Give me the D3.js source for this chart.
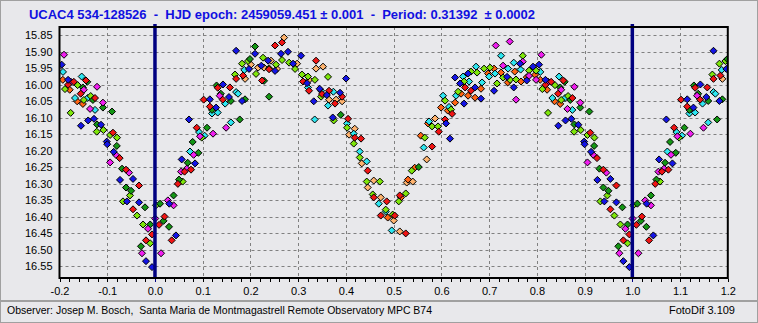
<!DOCTYPE html>
<html>
<head>
<meta charset="utf-8">
<script src="https://cdn.jsdelivr.net/npm/d3@7"></script>
<style>
  html, body { margin: 0; padding: 0; background: #e8e8eb; }
  svg { display: block; font-family: "Liberation Sans", Arial, sans-serif; }
</style>
</head>
<body>
<svg id="chart" width="758" height="323"></svg>
<script>
// Phased light curve of UCAC4 534-128526, one array per observing night.
// Each entry is [phase (0..1), magnitude].
const nightBlue = [
  [0.056,16.226],[0.084,16.238],[0.030,16.360],[0.044,16.456],[0.0713,16.105],[0.115,16.044],
  [0.128,16.069],[0.1425,15.999],[0.155,16.037],[0.1824,16.049],[0.197,15.952],[0.170,15.897],
  [0.2096,15.906],[0.2228,15.942],[0.237,15.927],[0.2515,15.958],[0.264,15.906],[0.2787,15.900],
  [0.2893,15.936],[0.306,15.912],[0.3186,15.995],[0.345,16.012],[0.360,16.031],[0.3877,16.024],
  [0.3326,16.050],[0.4003,15.981],[0.3724,16.099],[0.6098,16.117],[0.618,16.163],[0.6475,16.057],
  [0.6705,16.008],[0.683,16.042],[0.6287,15.978],[0.6391,15.996],[0.6559,15.966],[0.7103,16.018],
  [0.7516,16.008],[0.7376,15.976],[0.7648,15.936],[0.7788,15.987],[0.792,15.945],
  [0.8046,15.939],[0.818,15.985],[0.845,16.124],[0.860,16.108],[0.8723,16.103],[0.887,16.121],
  [0.899,16.172],[0.900,16.180],[0.9135,16.203],[0.954,16.285],[0.9268,16.288],[0.9414,16.353],
  [0.9666,16.356],[0.9812,16.534],[0.9938,16.552]
];
const nightRed = [
  [0.062,16.263],[0.0755,16.257],[0.048,16.300],[0.020,16.399],[0.0085,16.424],[0.035,16.471],
  [0.0875,16.130],[0.102,16.045],[0.115,16.066],[0.142,16.045],[0.1315,16.009],[0.157,16.008],
  [0.170,15.982],[0.1845,15.972],[0.2243,15.987],[0.239,15.953],[0.2515,15.881],[0.266,15.872],
  [0.3374,15.927],[0.3102,15.990],[0.3227,16.018],[0.350,16.028],[0.3646,16.018],[0.3772,16.057],
  [0.3919,16.036],[0.4045,16.103],[0.4185,16.160],[0.4317,16.163],[0.4457,16.260],[0.4583,16.341],
  [0.4855,16.353],[0.473,16.396],[0.5023,16.396],[0.5253,16.450],[0.5128,16.335],[0.5805,16.187],
  [0.5945,16.142],[0.6077,16.105],[0.6224,16.088],[0.6496,16.008],[0.6621,16.018],
  [0.818,16.000],[0.830,15.991],[0.8555,15.987],[0.8444,16.027],[0.8744,16.040],[0.912,16.145],
  [0.926,16.222],[0.9393,16.257],[0.9666,16.305],[0.954,16.377],[0.9938,16.453],[0.9812,16.471]
];
const nightMagenta = [
  [0.081,16.212],[0.0546,16.263],[0.0665,16.254],[0.027,16.350],[0.039,16.365],[0.0127,16.510],
  [0.0944,16.156],[0.1216,16.148],[0.149,16.130],[0.1356,16.033],[0.7564,16.045],[0.7292,15.942],
  [0.7705,15.930],[0.7139,15.881],[0.7432,15.869],[0.7836,15.973],[0.7983,15.985],
  [0.8094,15.909],[0.824,15.991],[0.8786,16.006],[0.851,16.015],[0.864,16.073],[0.891,16.054],
  [0.918,16.212],[0.906,16.235],[0.9456,16.266],[0.9854,16.436],[0.9728,16.510],[0.0005,16.405]
];
const nightCyan = [
  [0.0734,16.202],[0.0923,16.143],[0.104,16.154],[0.159,16.114],[0.1195,16.087],[0.1315,16.084],
  [0.147,16.057],[0.170,16.022],[0.174,16.027],[0.1872,15.955],[0.3206,16.008],[0.348,16.018],
  [0.3737,16.021],[0.3625,16.063],[0.3346,16.105],[0.4024,16.117],[0.4164,16.148],[0.429,16.202],
  [0.4436,16.232],[0.4688,16.360],[0.4834,16.384],[0.496,16.441],[0.563,16.190],[0.616,16.067],
  [0.6035,16.033],[0.6307,16.033],[0.6454,15.975],[0.658,15.990],[0.6726,15.945],[0.6852,15.993],
  [0.6999,15.975],[0.7124,15.966],[0.7397,15.951],[0.7516,15.933],[0.766,15.954],[0.725,15.912],
  [0.5742,16.111],
  [0.8073,15.961],[0.8465,15.975],[0.8325,16.040],[0.859,16.040],[0.8744,16.076]
];
const nightLime = [
  [0.058,16.293],[0.098,16.160],[0.1677,15.969],[0.1824,15.936],[0.195,15.928],[0.2117,15.967],
  [0.2264,15.918],[0.239,15.950],[0.2536,15.939],[0.2662,15.925],[0.281,15.933],[0.2935,15.952],
  [0.308,15.969],[0.3206,15.975],[0.335,15.985],[0.348,16.036],[0.3625,15.976],[0.3745,16.108],
  [0.4024,16.130],[0.4164,16.178],[0.429,16.220],[0.4436,16.293],[0.471,16.293],[0.4562,16.332],
  [0.4834,16.378],[0.498,16.393],[0.5379,16.260],[0.5253,16.329],[0.5107,16.353],[0.5652,16.160],
  [0.5805,16.126],[0.593,16.126],[0.6077,16.048],[0.6203,16.075],[0.635,16.021],[0.6475,15.990],
  [0.6621,15.960],[0.6747,15.963],[0.6894,15.951],[0.702,15.948],[0.7166,15.996],[0.7292,15.978],
  [0.7439,15.985],[0.7564,15.984],[0.7705,15.912],[0.7836,15.957],[0.7983,15.957],
  [0.8115,16.013],[0.838,16.001],[0.851,16.046],[0.8654,16.034],[0.8234,16.085],[0.878,16.142],
  [0.892,16.137],[0.906,16.152],[0.9205,16.160],[0.9477,16.335],[0.933,16.353],[0.9624,16.396],
  [0.975,16.423],[0.990,16.480],[0.002,16.365]
];
const nightGreen = [
  [0.091,16.206],[0.0686,16.236],[0.0504,16.287],[0.039,16.335],[0.0106,16.360],[0.018,16.412],
  [0.0294,16.430],[0.079,16.173],[0.109,16.130],[0.1776,16.105],[0.1195,16.076],[0.138,16.027],
  [0.159,16.049],[0.129,16.002],[0.1886,16.044],[0.199,15.922],[0.2096,15.884],[0.2285,15.988],
  [0.239,16.036],[0.3892,16.091],[0.5526,16.249],
  [0.8583,15.991],[0.849,16.008],[0.870,16.046],[0.891,16.069],[0.910,16.081],[0.8786,16.120],
  [0.920,16.185],[0.931,16.254],[0.9393,16.311],[0.950,16.321],[0.9791,16.371],[0.990,16.423],
  [0.9707,16.489]
];
const nightOrange = [
  [0.4876,16.402],[0.5442,16.251],[0.530,16.287],[0.5155,16.341],[0.5568,16.154],[0.572,16.117],
  [0.5993,16.069],[0.6133,16.078],[0.6287,16.054],[0.6412,16.027],[0.6559,16.033],[0.6705,16.039],
  [0.683,16.012],[0.6978,15.966],[0.7103,15.951],[0.725,15.963],[0.739,15.993],[0.7537,15.960],
  [0.7669,15.990],[0.7788,15.977],[0.7962,15.970],
  [0.807,15.985],[0.8214,16.015],[0.837,16.050],[0.849,16.058]
];
const nightPeach = [
  [0.1887,15.982],[0.201,15.939],[0.216,15.948],[0.2285,15.948],[0.243,15.927],[0.2557,15.952],
  [0.2705,15.857],[0.2977,15.936],[0.323,15.985],[0.3374,15.951],[0.352,15.945],[0.3646,16.045],
  [0.3793,16.045],[0.392,16.050],[0.4066,16.151],[0.4185,16.133],[0.4332,16.238],[0.4583,16.290],
  [0.4457,16.311],[0.473,16.341],[0.5002,16.411],[0.5128,16.444],[0.5693,16.226],[0.5274,16.296],
  [0.540,16.293],[0.5867,16.102]
];

const magTicks = [15.85,15.90,15.95,16.00,16.05,16.10,16.15,16.20,16.25,16.30,16.35,16.40,16.45,16.50,16.55];
const phaseTicks = [-0.2,-0.1,0.0,0.1,0.2,0.3,0.4,0.5,0.6,0.7,0.8,0.9,1.0,1.1,1.2];
const epochLines = [0.0, 1.0];

const titleText = "UCAC4 534-128526  -  HJD epoch: 2459059.451 \u00b1 0.001  -  Period: 0.31392  \u00b1 0.0002";
const observerText = "Observer: Josep M. Bosch,  Santa Maria de Montmagastrell Remote Observatory MPC B74";
const softwareText = "FotoDif 3.109";

const series = [
  { obs: nightPeach,   fill: "#ffb36e" },
  { obs: nightOrange,  fill: "#ff6414" },
  { obs: nightCyan,    fill: "#2ee6f0" },
  { obs: nightLime,    fill: "#7ee60a" },
  { obs: nightGreen,   fill: "#149614" },
  { obs: nightMagenta, fill: "#f01ef0" },
  { obs: nightRed,     fill: "#f01414" },
  { obs: nightBlue,    fill: "#1414e6" }
];

const svg = d3.select("#chart");
const W = 758, H = 323;
const plot = { left: 59.5, right: 727.8, top: 27, bottom: 278 };

const x = d3.scaleLinear().domain([-0.2, 1.2]).range([plot.left, plot.right]);
const y = d3.scaleLinear().domain([15.825, 16.585]).range([plot.top, plot.bottom]);

// panel background
svg.append("rect").attr("x", 0).attr("y", 0).attr("width", W).attr("height", H).attr("fill", "#e8e8eb");
svg.append("rect").attr("x", 0.5).attr("y", 0.5).attr("width", W - 1).attr("height", 300)
  .attr("fill", "none").attr("stroke", "#a0a0a0");
svg.append("rect").attr("x", 0.5).attr("y", 301.5).attr("width", W - 1).attr("height", 21)
  .attr("fill", "none").attr("stroke", "#a0a0a0");

// title
svg.append("text")
  .attr("x", 29).attr("y", 19)
  .attr("fill", "#1010e0")
  .attr("font-weight", "bold")
  .attr("font-size", 13)
  .attr("textLength", 506)
  .attr("lengthAdjust", "spacing")
  .style("white-space", "pre")
  .text(titleText);

// grid
const grid = svg.append("g").attr("stroke", "#808080").attr("stroke-dasharray", "3,3").attr("stroke-width", 1);
grid.selectAll("line.h").data(magTicks).join("line")
  .attr("x1", plot.left).attr("x2", plot.right)
  .attr("y1", d => Math.round(y(d)) + 0.5).attr("y2", d => Math.round(y(d)) + 0.5);
grid.selectAll("line.v").data(phaseTicks.filter(d => d > -0.2 && d < 1.2)).join("line")
  .attr("y1", plot.top).attr("y2", plot.bottom)
  .attr("x1", d => Math.round(x(d)) + 0.5).attr("x2", d => Math.round(x(d)) + 0.5);

// observations, each shown at its phase and repeated one cycle over where it falls in the overlap
svg.append("clipPath").attr("id", "plotClip").append("rect")
  .attr("x", plot.left).attr("y", plot.top)
  .attr("width", plot.right - plot.left).attr("height", plot.bottom - plot.top);

const diamond = "M0,-3.5L3.5,0L0,3.5L-3.5,0Z";
const marks = svg.append("g").attr("clip-path", "url(#plotClip)");
series.forEach(s => {
  const pts = [];
  s.obs.forEach(([p, m]) => {
    pts.push([p, m]);
    if (p < 0.2) pts.push([p + 1, m]);
    if (p > 0.8) pts.push([p - 1, m]);
  });
  marks.append("g").selectAll("path").data(pts).join("path")
    .attr("d", diamond)
    .attr("transform", d => `translate(${x(d[0])},${y(d[1])})`)
    .attr("fill", s.fill)
    .attr("stroke", "#000")
    .attr("stroke-width", 1);
});

// epoch markers
svg.append("g").selectAll("line").data(epochLines).join("line")
  .attr("x1", d => x(d)).attr("x2", d => x(d))
  .attr("y1", plot.top - 3).attr("y2", plot.bottom)
  .attr("stroke", "#000080").attr("stroke-width", 3.5);

// frame
svg.append("rect")
  .attr("x", plot.left).attr("y", plot.top)
  .attr("width", plot.right - plot.left).attr("height", plot.bottom - plot.top)
  .attr("fill", "none").attr("stroke", "#000").attr("stroke-width", 2);

// y axis labels
const yAxis = d3.axisLeft(y).tickValues(magTicks).tickSize(0).tickPadding(7)
  .tickFormat(d => d.toFixed(2));
const gy = svg.append("g").attr("transform", `translate(${plot.left},0)`).call(yAxis);
gy.select(".domain").remove();
gy.selectAll("text").attr("font-family", "Liberation Sans, Arial, sans-serif").attr("font-size", 11).attr("fill", "#000");

// x axis: minor ticks every 0.02 and labels every 0.1
const minor = d3.range(-0.2, 1.2001, 0.02);
svg.append("g").selectAll("line").data(minor).join("line")
  .attr("x1", d => Math.round(x(d)) + 0.5).attr("x2", d => Math.round(x(d)) + 0.5)
  .attr("y1", plot.bottom + 1).attr("y2", plot.bottom + 4)
  .attr("stroke", d => (Math.abs(d) < 1e-6 || Math.abs(d - 1) < 1e-6) ? "#000080" : "#000");

const xAxis = d3.axisBottom(x).tickValues(phaseTicks).tickSize(0).tickPadding(9)
  .tickFormat(d => d.toFixed(1));
const gx = svg.append("g").attr("transform", `translate(0,${plot.bottom})`).call(xAxis);
gx.select(".domain").remove();
gx.selectAll("text").attr("font-family", "Liberation Sans, Arial, sans-serif").attr("font-size", 11).attr("fill", "#000");

// footer
svg.append("text").attr("x", 7).attr("y", 314).attr("font-size", 11).attr("fill", "#000")
  .attr("textLength", 425).attr("lengthAdjust", "spacingAndGlyphs")
  .style("white-space", "pre").text(observerText);
svg.append("text").attr("x", 735).attr("y", 314).attr("font-size", 11).attr("fill", "#000")
  .attr("text-anchor", "end").text(softwareText);
</script>
</body>
</html>
